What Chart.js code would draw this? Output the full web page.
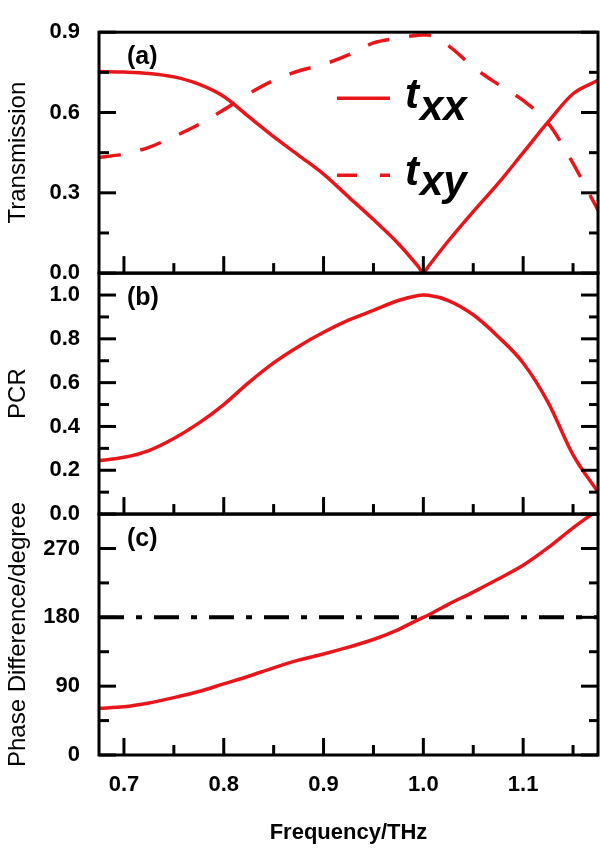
<!DOCTYPE html>
<html><head><meta charset="utf-8">
<script src="https://cdn.jsdelivr.net/npm/chart.js@4"></script>
<style>html,body{margin:0;padding:0;background:#fff}#wrap{width:600px;height:855px;position:relative}</style>
</head><body><div id="wrap"><canvas id="c" width="600" height="855"></canvas></div>
<script>
// ---- data ----
const freq = [0.675,0.70,0.725,0.75,0.775,0.80,0.825,0.85,0.875,0.90,0.925,0.95,0.975,0.995,1.0,1.005,1.025,1.05,1.075,1.10,1.125,1.15,1.175];
const txx  = [0.753,0.751,0.746,0.733,0.706,0.66,0.585,0.51,0.44,0.37,0.285,0.20,0.11,0.024,0.0,0.025,0.12,0.23,0.335,0.45,0.565,0.67,0.72];
const txy  = [0.432,0.445,0.47,0.51,0.555,0.61,0.67,0.72,0.755,0.78,0.815,0.86,0.878,0.889,0.89,0.889,0.85,0.77,0.705,0.645,0.56,0.41,0.235];
const pcr  = [0.244,0.259,0.29,0.345,0.415,0.50,0.60,0.69,0.765,0.83,0.885,0.93,0.975,0.998,1.0,0.999,0.975,0.91,0.81,0.69,0.51,0.27,0.10];
const freqPhase = [0.675,0.70,0.725,0.75,0.775,0.80,0.825,0.85,0.875,0.90,0.925,0.95,0.975,0.995,1.0,1.005,1.025,1.05,1.075,1.10,1.125,1.15,1.169];
const phase = [61,63,68,75,83,93,103,114,124,132,141,151,164,177,180,183,197,213,230,248,271,297,315];
const refFreq = [0.675,1.175];
const refPhase = [180,180];

const xTicks = [0.7,0.8,0.9,1.0,1.1];
const xMinor = [0.75,0.85,0.95,1.05,1.15];
const yTicksA = [0,0.3,0.6,0.9];           const yMinorA = [0.15,0.45,0.75];
const yTicksB = [0,0.2,0.4,0.6,0.8,1.0];   const yMinorB = [0.1,0.3,0.5,0.7,0.9];
const yTicksC = [0,90,180,270];            const yMinorC = [45,135,225];
const panelLabels = ['(a)','(b)','(c)'];
const legendItems = [['t','xx'],['t','xy']];
const yTitles = ['Transmission','PCR','Phase Difference/degree'];
const xTitle = 'Frequency/THz';

// ---- chart ----
const FAM = "'Liberation Sans', Arial, Helvetica, sans-serif";
const RED = '#e8161b';
const zip = (xs, ys) => xs.map((x, i) => ({x: x, y: ys[i]}));

function yAxis(min, max, major, title, fmt) {
  return {
    type: 'linear', position: 'left', stack: 'panels', stackWeight: 1,
    min: min, max: max,
    afterBuildTicks: s => { s.ticks = major.map(v => ({value: v})); },
    afterFit: s => { s.width = 99; },
    grid: {display: false, drawTicks: false},
    border: {display: false},
    ticks: {autoSkip: false, padding: 19, color: '#000',
            font: {family: FAM, size: 22, weight: 'bold'}, callback: fmt},
    title: {display: true, text: title, color: '#000',
            font: {family: FAM, size: 24, weight: 'normal'}, padding: {top: 4, bottom: 4}}
  };
}

function line(ctx, x1, y1, x2, y2) { ctx.beginPath(); ctx.moveTo(x1, y1); ctx.lineTo(x2, y2); ctx.stroke(); }

const framePlugin = {
  id: 'frame',
  afterDatasetsDraw(chart) {
    const ctx = chart.ctx, ca = chart.chartArea, xs = chart.scales.x;
    const panels = [['yA', yTicksA, yMinorA], ['yB', yTicksB, yMinorB], ['yC', yTicksC, yMinorC]];
    ctx.save();
    ctx.strokeStyle = '#000'; ctx.lineWidth = 3; ctx.lineCap = 'butt';
    panels.forEach((p, i) => {
      const s = chart.scales[p[0]];
      ctx.strokeRect(ca.left, s.top, ca.right - ca.left, s.bottom - s.top);
      p[1].forEach(v => { const py = s.getPixelForValue(v);
        line(ctx, ca.left, py, ca.left + 17, py); line(ctx, ca.right, py, ca.right - 17, py); });
      p[2].forEach(v => { const py = s.getPixelForValue(v);
        line(ctx, ca.left, py, ca.left + 10, py); line(ctx, ca.right, py, ca.right - 9, py); });
      xTicks.forEach(v => { const px = xs.getPixelForValue(v); line(ctx, px, s.bottom, px, s.bottom - 17); });
      xMinor.forEach(v => { const px = xs.getPixelForValue(v); line(ctx, px, s.bottom, px, s.bottom - 10); });
      ctx.fillStyle = '#000';
      ctx.font = 'bold 25px ' + FAM;
      ctx.textBaseline = 'middle'; ctx.textAlign = 'left';
      ctx.fillText(panelLabels[i], ca.left + 28, s.top + 25);
    });
    // legend in panel (a)
    const sA = chart.scales.yA;
    const lx = ca.left + 238, rows = [sA.top + 66, sA.top + 143];
    ctx.strokeStyle = RED; ctx.lineWidth = 3.5;
    rows.forEach((ly, i) => {
      ctx.setLineDash(i === 0 ? [] : [20, 23]);
      line(ctx, lx, ly, lx + 53, ly);
      ctx.setLineDash([]);
      ctx.fillStyle = '#000';
      ctx.font = 'italic bold 42px ' + FAM;
      ctx.textBaseline = 'alphabetic';
      ctx.fillText(legendItems[i][0], lx + 68, ly + 10);
      ctx.fillText(legendItems[i][1], lx + 83, ly + (i === 0 ? 22 : 20));
    });
    ctx.restore();
  }
};

new Chart(document.getElementById('c'), {
  type: 'line',
  data: {
    datasets: [
      {label: 'txx', data: zip(freq, txx), yAxisID: 'yA', borderColor: RED, borderWidth: 3.5,
       pointRadius: 0, cubicInterpolationMode: 'monotone', fill: false},
      {label: 'txy', data: zip(freq, txy), yAxisID: 'yA', borderColor: RED, borderWidth: 3.5,
       borderDash: [22, 20], pointRadius: 0, cubicInterpolationMode: 'monotone', fill: false},
      {label: 'PCR', data: zip(freq, pcr), yAxisID: 'yB', borderColor: RED, borderWidth: 3.5,
       pointRadius: 0, cubicInterpolationMode: 'monotone', fill: false},
      {label: 'phase', data: zip(freqPhase, phase), yAxisID: 'yC', borderColor: RED, borderWidth: 3.5,
       pointRadius: 0, cubicInterpolationMode: 'monotone', fill: false},
      {label: 'ref', data: zip(refFreq, refPhase), yAxisID: 'yC', borderColor: '#000', borderWidth: 4,
       borderDash: [25, 12, 6, 12], pointRadius: 0, tension: 0, fill: false}
    ]
  },
  options: {
    responsive: false, animation: false, devicePixelRatio: 1,
    layout: {padding: {top: 17, right: 2, left: 0, bottom: 0}},
    plugins: {legend: {display: false}, tooltip: {enabled: false}},
    scales: {
      x: {
        type: 'linear', min: 0.675, max: 1.175,
        afterBuildTicks: s => { s.ticks = xTicks.map(v => ({value: v})); },
        afterFit: s => { s.height = 100; },
        grid: {display: false, drawTicks: false}, border: {display: false},
        ticks: {autoSkip: false, maxRotation: 0, padding: 17, color: '#000',
                font: {family: FAM, size: 22, weight: 'bold'}, callback: v => v.toFixed(1)},
        title: {display: true, text: xTitle, color: '#000',
                font: {family: FAM, size: 22, weight: 'bold'}, padding: {top: 4, bottom: 9}}
      },
      yC: yAxis(0, 315, yTicksC, yTitles[2], v => String(Math.round(v))),
      yB: yAxis(0, 1.1, yTicksB, yTitles[1], v => v.toFixed(1)),
      yA: yAxis(0, 0.9, yTicksA, yTitles[0], v => v.toFixed(1))
    }
  },
  plugins: [framePlugin]
});
</script></body></html>
